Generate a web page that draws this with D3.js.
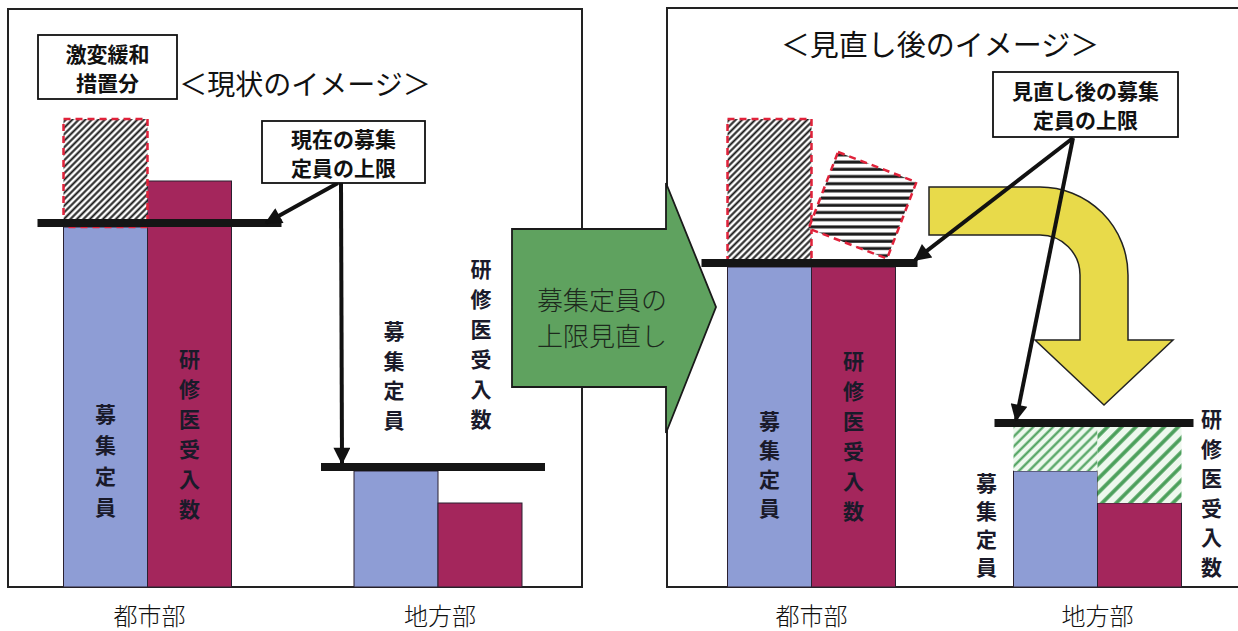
<!DOCTYPE html>
<html>
<head>
<meta charset="utf-8">
<script src="https://cdn.jsdelivr.net/npm/d3@7"></script>
<style>
  body { margin: 0; background: #fff; }
  svg { display: block; }
  text { font-family: "Noto Sans CJK JP", "Noto Sans", sans-serif; fill: #111; }
</style>
</head>
<body>
<div id="chart"></div>
<script>
// categories and series
var categories = ["都市部", "地方部"];
var series = ["募集定員", "研修医受入数"];

// 現状のイメージ (values in arbitrary units)
var nowTeiin   = [90, 29];      // 募集定員
var nowUkeire  = [101.5, 21];   // 研修医受入数
var nowCap     = [91, 30];      // 現在の募集定員の上限
var nowKekihen = 117;           // 激変緩和措置分 (都市部 only)

// 見直し後のイメージ
var newTeiin  = [80, 29];
var newUkeire = [80, 21];
var newCap    = [81, 41];       // 見直し後の募集定員の上限
var newGreen  = 40;             // 地方部 hatched room up to the new cap

// texts
var titleNow = "＜現状のイメージ＞";
var titleNew = "＜見直し後のイメージ＞";
var boxKekihen = ["激変緩和", "措置分"];
var boxNowCap = ["現在の募集", "定員の上限"];
var boxNewCap = ["見直し後の募集", "定員の上限"];
var arrowText = ["募集定員の", "上限見直し"];

var W = 1238, H = 631;
var svg = d3.select("#chart").append("svg")
    .attr("width", W).attr("height", H);

var defs = svg.append("defs");

// hatch patterns
function hatch(id, size, angle, bg, color, sw) {
  var p = defs.append("pattern").attr("id", id)
    .attr("patternUnits", "userSpaceOnUse")
    .attr("width", size).attr("height", size)
    .attr("patternTransform", "rotate(" + angle + ")");
  p.append("rect").attr("width", size).attr("height", size).attr("fill", bg);
  p.append("line").attr("x1", size / 2).attr("x2", size / 2)
    .attr("y1", 0).attr("y2", size)
    .attr("stroke", color).attr("stroke-width", sw);
}
hatch("diag", 4.6, 45, "#fff", "#1a1a1a", 2);
hatch("greenFine", 7, 45, "#eef8ee", "#4a9f5a", 2.2);
hatch("greenWide", 10, 45, "#eef8ee", "#4a9f5a", 3.6);
var ph = defs.append("pattern").attr("id", "horiz")
  .attr("patternUnits", "userSpaceOnUse").attr("width", 10).attr("height", 7.2);
ph.append("rect").attr("width", 10).attr("height", 7.2).attr("fill", "#fff");
ph.append("rect").attr("y", 2.2).attr("width", 10).attr("height", 3).attr("fill", "#1a1a1a");

defs.append("marker").attr("id", "head")
  .attr("viewBox", "0 0 10 10").attr("refX", 9).attr("refY", 5)
  .attr("markerUnits", "userSpaceOnUse")
  .attr("markerWidth", 20).attr("markerHeight", 17)
  .attr("orient", "auto")
  .append("path").attr("d", "M0,0 L10,5 L0,10 z").attr("fill", "#111");

// scales
var y = d3.scaleLinear().domain([0, 120]).range([587, 107]);
var xNow = d3.scalePoint().domain(categories).range([147.5, 438]);
var xNew = d3.scalePoint().domain(categories).range([811.5, 1097.5]);
var sub = d3.scaleBand().domain(series).range([-84, 84]);

var BLUE = "#8e9dd5", RED = "#a4265c";

// panel frames
svg.append("rect").attr("x", 8).attr("y", 9).attr("width", 574).attr("height", 578)
  .attr("fill", "none").attr("stroke", "#222").attr("stroke-width", 2);
svg.append("path").attr("d", "M1238,8 L667,8 L667,587 L1238,587")
  .attr("fill", "none").attr("stroke", "#222").attr("stroke-width", 2);

function bars(g, x, teiin, ukeire) {
  var rows = [];
  categories.forEach(function (c, i) {
    rows.push({ c: c, s: series[0], v: teiin[i], color: BLUE });
    rows.push({ c: c, s: series[1], v: ukeire[i], color: RED });
  });
  g.selectAll("rect.bar").data(rows).enter().append("rect").attr("class", "bar")
    .attr("x", function (d) { return x(d.c) + sub(d.s); })
    .attr("width", sub.bandwidth())
    .attr("y", function (d) { return y(d.v); })
    .attr("height", function (d) { return y(0) - y(d.v); })
    .attr("fill", function (d) { return d.color; })
    .attr("stroke", "#2a2030").attr("stroke-width", 1);
}

function dashedBox(g, x0, y0, w, h, fill) {
  g.append("rect").attr("x", x0).attr("y", y0).attr("width", w).attr("height", h)
    .attr("fill", fill).attr("stroke", "#e0223a").attr("stroke-width", 2.5)
    .attr("stroke-dasharray", "7,5");
}

var gNow = svg.append("g");
var gNew = svg.append("g");
bars(gNow, xNow, nowTeiin, nowUkeire);
bars(gNew, xNew, newTeiin, newUkeire);

// 激変緩和措置分 on 都市部 (now)
dashedBox(gNow, xNow(categories[0]) + sub(series[0]), y(nowKekihen),
  sub.bandwidth(), y(nowTeiin[0]) - y(nowKekihen), "url(#diag)");

// after: old 激変緩和 part that is cut (都市部)
dashedBox(gNew, xNew(categories[0]) + sub(series[0]), y(nowKekihen),
  sub.bandwidth(), y(newCap[0]) - y(nowKekihen), "url(#diag)");

// after: 研修医 excess tipping over (都市部)
(function () {
  var w = sub.bandwidth(), h = y(newCap[0]) - y(nowUkeire[0]);
  var a = 21 * Math.PI / 180, ox = 838, oy = 152;
  var pts = [[0, 0], [w, 0], [w, h], [0, h]].map(function (p) {
    return [ox + p[0] * Math.cos(a) - p[1] * Math.sin(a),
            oy + p[0] * Math.sin(a) + p[1] * Math.cos(a)];
  });
  gNew.append("polygon").attr("points", pts.join(" "))
    .attr("fill", "url(#horiz)").attr("stroke", "#e0223a")
    .attr("stroke-width", 2.5).attr("stroke-dasharray", "7,5");
})();

// after: green room up to new cap (地方部)
[[series[0], newTeiin[1], "url(#greenFine)"], [series[1], newUkeire[1], "url(#greenWide)"]]
  .forEach(function (d) {
    gNew.append("rect")
      .attr("x", xNew(categories[1]) + sub(d[0]))
      .attr("width", sub.bandwidth())
      .attr("y", y(newGreen)).attr("height", y(d[1]) - y(newGreen))
      .attr("fill", d[2]);
  });

// cap lines
function capLine(x, cat, v, left, right) {
  svg.append("line")
    .attr("x1", x(cat) + left).attr("x2", x(cat) + right)
    .attr("y1", y(v)).attr("y2", y(v))
    .attr("stroke", "#151515").attr("stroke-width", 8);
}
capLine(xNow, categories[0], nowCap[0], -110, 134);
capLine(xNow, categories[1], nowCap[1], -117, 107);
capLine(xNew, categories[0], newCap[0], -110, 106);
capLine(xNew, categories[1], newCap[1], -103, 96);

// yellow U-turn arrow
svg.append("path")
  .attr("d", "M929,187 L1040,187 A88,88 0 0 1 1128,275 L1128,340 L1173,340 L1104,405 " +
             "L1035,340 L1080,340 L1080,275 A40,40 0 0 0 1040,235 L929,235 Z")
  .attr("fill", "#e8da4a").attr("stroke", "#222").attr("stroke-width", 1.5);

// green arrow
svg.append("path")
  .attr("d", "M512,229 L666,229 L666,183 L716,307 L666,433 L666,387 L512,387 Z")
  .attr("fill", "#5fa25f").attr("stroke", "#1a1a1a").attr("stroke-width", 1.8);
arrowText.forEach(function (t, i) {
  svg.append("text").attr("x", 537).attr("y", 298 + i * 36)
    .attr("dominant-baseline", "central")
    .style("font-size", "26px").style("font-weight", 300).style("fill", "#1d2a1d")
    .text(t);
});

// connector arrows
function arrow(x1, y1, x2, y2) {
  svg.append("line").attr("x1", x1).attr("y1", y1).attr("x2", x2).attr("y2", y2)
    .attr("stroke", "#111").attr("stroke-width", 4).attr("marker-end", "url(#head)");
}
arrow(338, 183, 266, y(nowCap[0]));
arrow(341, 183, 342, y(nowCap[1]) - 4);
arrow(1073, 138, 915, y(newCap[0]) - 3);
arrow(1073, 138, 1016, y(newCap[1]) - 3);

// text boxes
function textBox(x0, y0, w, h, lines) {
  svg.append("rect").attr("x", x0).attr("y", y0).attr("width", w).attr("height", h)
    .attr("fill", "#fff").attr("stroke", "#111").attr("stroke-width", 1.8);
  lines.forEach(function (t, i) {
    svg.append("text").attr("x", x0 + w / 2).attr("y", y0 + h / 2 + (i - 0.5) * 29)
      .attr("text-anchor", "middle").attr("dominant-baseline", "central")
      .style("font-size", "21px").style("font-weight", 700).text(t);
  });
}
textBox(38, 35, 139, 64, boxKekihen);
textBox(262, 121, 163, 62, boxNowCap);
textBox(993, 72, 185, 65, boxNewCap);

// titles
svg.append("text").attr("x", 305).attr("y", 83).attr("text-anchor", "middle")
  .attr("dominant-baseline", "central").style("font-size", "28px").text(titleNow);
svg.append("text").attr("x", 940).attr("y", 43).attr("text-anchor", "middle")
  .attr("dominant-baseline", "central").style("font-size", "29px").text(titleNew);

// vertical labels
function vtext(x, y0, step, str) {
  str.split("").forEach(function (ch, i) {
    svg.append("text").attr("x", x).attr("y", y0 + i * step)
      .attr("text-anchor", "middle").attr("dominant-baseline", "central")
      .style("font-size", "21px").style("font-weight", 700).style("fill", "#1a1a2a")
      .text(ch);
  });
}
var bw = sub.bandwidth() / 2;
vtext(xNow(categories[0]) + sub(series[0]) + bw, 413, 31, series[0]);
vtext(xNow(categories[0]) + sub(series[1]) + bw, 358, 30, series[1]);
vtext(xNow(categories[1]) + sub(series[0]) + bw - 2, 330, 29.5, series[0]);
vtext(xNow(categories[1]) + sub(series[1]) + bw + 1, 268, 30, series[1]);
vtext(xNew(categories[0]) + sub(series[0]) + bw, 420, 29, series[0]);
vtext(xNew(categories[0]) + sub(series[1]) + bw, 360, 30, series[1]);
vtext(xNew(categories[1]) + sub(series[0]) - 27, 482, 28, series[0]);
vtext(xNew(categories[1]) + sub(series[1]) + sub.bandwidth() + 30, 418, 29.5, series[1]);

// category labels
[[xNow, 2], [xNew, 0]].forEach(function (d) {
  categories.forEach(function (c) {
    svg.append("text").attr("x", d[0](c) + d[1]).attr("y", 614)
      .attr("text-anchor", "middle").attr("dominant-baseline", "central")
      .style("font-size", "24px").style("font-weight", 300).text(c);
  });
});
</script>
</body>
</html>
